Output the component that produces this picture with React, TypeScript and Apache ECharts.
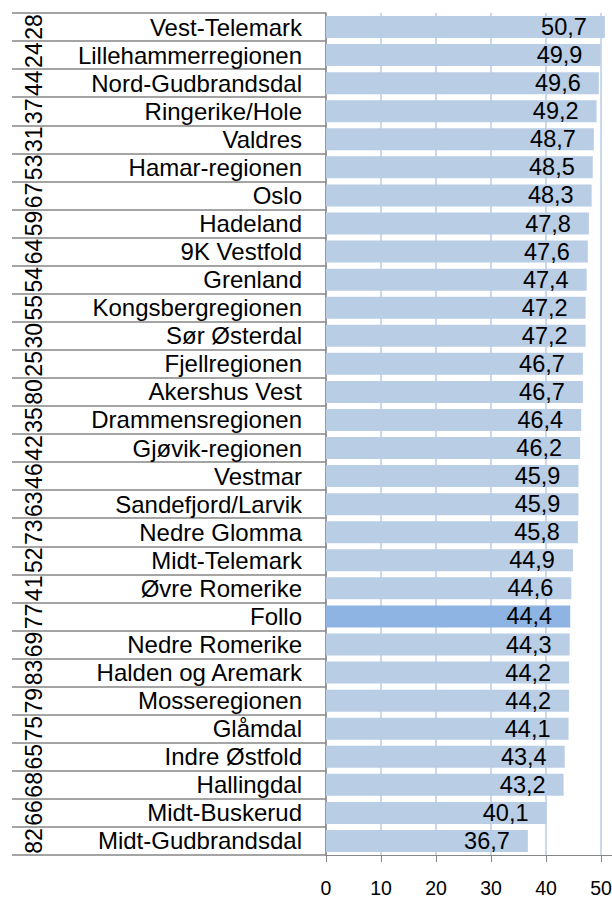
import React, { useEffect, useRef } from "react";
import * as echarts from "echarts";

const regions = [
  "Vest-Telemark", "Lillehammerregionen", "Nord-Gudbrandsdal", "Ringerike/Hole", "Valdres",
  "Hamar-regionen", "Oslo", "Hadeland", "9K Vestfold", "Grenland",
  "Kongsbergregionen", "Sør Østerdal", "Fjellregionen", "Akershus Vest", "Drammensregionen",
  "Gjøvik-regionen", "Vestmar", "Sandefjord/Larvik", "Nedre Glomma", "Midt-Telemark",
  "Øvre Romerike", "Follo", "Nedre Romerike", "Halden og Aremark", "Mosseregionen",
  "Glåmdal", "Indre Østfold", "Hallingdal", "Midt-Buskerud", "Midt-Gudbrandsdal",
];

const values = [
  50.7, 49.9, 49.6, 49.2, 48.7, 48.5, 48.3, 47.8, 47.6, 47.4,
  47.2, 47.2, 46.7, 46.7, 46.4, 46.2, 45.9, 45.9, 45.8, 44.9,
  44.6, 44.4, 44.3, 44.2, 44.2, 44.1, 43.4, 43.2, 40.1, 36.7,
];

const codes = [
  "28", "24", "44", "37", "31", "53", "67", "59", "64", "54",
  "55", "30", "25", "80", "35", "42", "46", "63", "73", "52",
  "41", "77", "69", "83", "79", "75", "65", "68", "66", "82",
];

const xTicks = { min: 0, max: 60, interval: 10 };
const highlighted = "Follo";

const FONT = "'Liberation Sans', Arial, sans-serif";

export default function App() {
  const ref = useRef<HTMLDivElement>(null);
  useEffect(() => {
    if (!ref.current) return;
    const chart = echarts.init(ref.current, null, { renderer: "svg" });
    chart.setOption({
      animation: false,
      grid: { left: 326, top: 13, bottom: 44, right: 4, containLabel: false, outerBoundsMode: "none" },
      xAxis: {
        type: "value",
        min: xTicks.min,
        max: xTicks.max,
        interval: xTicks.interval,
        axisLine: { show: true, lineStyle: { color: "#868686", width: 1 } },
        axisTick: { show: true, length: 7, lineStyle: { color: "#868686" } },
        axisLabel: { color: "#000", fontSize: 19.5, fontFamily: FONT, margin: 23 },
        splitLine: { show: true, lineStyle: { color: "#b9cde5", width: 1.5 } },
      },
      yAxis: [
        {
          type: "category",
          data: regions,
          inverse: true,
          axisLine: { show: true, lineStyle: { color: "#868686", width: 1.5 } },
          axisTick: { show: true, length: 314, interval: 0, lineStyle: { color: "#868686", width: 1.5 } },
          axisLabel: { interval: 0, color: "#000", fontSize: 24, fontFamily: FONT, margin: 24 },
          splitLine: { show: false },
        },
        {
          type: "category",
          data: codes,
          inverse: true,
          position: "left",
          offset: 278,
          axisLine: { show: false },
          axisTick: { show: false },
          axisLabel: { interval: 0, rotate: 90, color: "#000", fontSize: 23, fontFamily: FONT, margin: 3 },
          splitLine: { show: false },
        },
      ],
      series: [
        {
          type: "bar",
          yAxisIndex: 0,
          barWidth: 22,
          data: values.map((v, i) => ({
            value: v,
            itemStyle: { color: regions[i] === highlighted ? "#8eb4e3" : "#b9cde5" },
          })),
          label: {
            show: true,
            position: "insideRight",
            distance: 18,
            color: "#000",
            fontSize: 23.5,
            fontFamily: FONT,
            formatter: (p: any) => String(p.value).replace(".", ","),
          },
        },
      ],
    });
    return () => chart.dispose();
  }, []);
  return (
    <div style={{ position: "absolute", left: 0, top: 0, width: 612, height: 899, overflow: "hidden", background: "#fff" }}>
      <div ref={ref} style={{ width: 660, height: 899 }} />
    </div>
  );
}
